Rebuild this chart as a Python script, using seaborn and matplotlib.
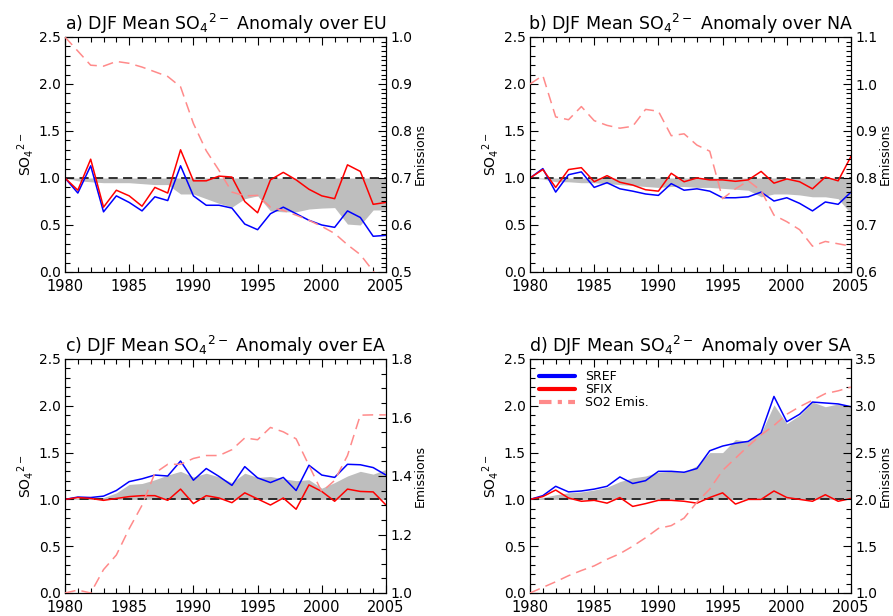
import matplotlib
matplotlib.use("Agg")
import matplotlib.pyplot as plt
import seaborn as sns
import pandas as pd
from matplotlib.ticker import MultipleLocator, FormatStrFormatter
from matplotlib.lines import Line2D

years = list(range(1980, 2006))

# Europe
sref_eu = [1.00, 0.84, 1.13, 0.64, 0.81, 0.74, 0.65, 0.80, 0.76, 1.13, 0.81, 0.71, 0.71,
           0.68, 0.51, 0.45, 0.62, 0.69, 0.62, 0.55, 0.50, 0.475, 0.65, 0.58, 0.38, 0.39]
sfix_eu = [1.00, 0.87, 1.20, 0.69, 0.87, 0.81, 0.70, 0.90, 0.84, 1.30, 0.97, 0.97, 1.02,
           1.01, 0.75, 0.63, 0.98, 1.06, 0.98, 0.88, 0.81, 0.78, 1.14, 1.07, 0.72, 0.74]
band_eu = [1.00, 0.97, 0.96, 0.95, 0.95, 0.95, 0.94, 0.93, 0.93, 0.83, 0.83, 0.78, 0.73,
           0.69, 0.78, 0.81, 0.65, 0.64, 0.64, 0.67, 0.68, 0.685, 0.51, 0.50, 0.66, 0.66]
emis_eu = [1.00, 0.97, 0.94, 0.938, 0.948, 0.944, 0.936, 0.926, 0.916, 0.894, 0.816, 0.758,
           0.716, 0.67, 0.662, 0.663, 0.638, 0.631, 0.621, 0.61, 0.597, 0.582, 0.558, 0.537,
           0.502, 0.47]

# North America
sref_na = [1.00, 1.10, 0.85, 1.035, 1.065, 0.90, 0.95, 0.885, 0.86, 0.83, 0.815, 0.94, 0.87,
           0.885, 0.86, 0.79, 0.79, 0.80, 0.85, 0.755, 0.79, 0.73, 0.65, 0.745, 0.72, 0.85]
sfix_na = [1.00, 1.09, 0.90, 1.09, 1.11, 0.96, 1.025, 0.955, 0.925, 0.875, 0.86, 1.05, 0.96,
           1.00, 0.98, 0.98, 0.965, 0.98, 1.07, 0.945, 0.99, 0.96, 0.885, 1.01, 0.97, 1.23]
band_na = [1.00, 0.99, 0.96, 0.96, 0.95, 0.95, 0.94, 0.93, 0.92, 0.91, 0.90, 0.91, 0.91,
           0.90, 0.90, 0.89, 0.88, 0.87, 0.80, 0.83, 0.83, 0.82, 0.80, 0.80, 0.78, 0.62]
emis_na = [1.00, 1.018, 0.93, 0.924, 0.952, 0.922, 0.912, 0.906, 0.91, 0.946, 0.942, 0.89,
           0.894, 0.87, 0.857, 0.756, 0.777, 0.794, 0.773, 0.721, 0.707, 0.69, 0.655, 0.665,
           0.66, 0.655]

# East Asia
sref_ea = [1.00, 1.025, 1.02, 1.035, 1.095, 1.19, 1.22, 1.26, 1.25, 1.41, 1.205, 1.33, 1.245,
           1.15, 1.35, 1.23, 1.18, 1.235, 1.095, 1.365, 1.26, 1.235, 1.375, 1.37, 1.34, 1.26]
sfix_ea = [1.00, 1.02, 1.01, 0.99, 1.01, 1.03, 1.04, 1.04, 0.99, 1.11, 0.955, 1.04, 1.015,
           0.965, 1.07, 1.005, 0.94, 1.015, 0.895, 1.155, 1.085, 0.98, 1.11, 1.085, 1.08, 0.94]
band_ea = [1.00, 1.01, 1.01, 1.02, 1.07, 1.16, 1.17, 1.21, 1.26, 1.30, 1.24, 1.28, 1.24,
           1.18, 1.28, 1.235, 1.245, 1.22, 1.20, 1.21, 1.12, 1.18, 1.25, 1.30, 1.27, 1.32]
emis_ea = [1.00, 1.01, 1.00, 1.08, 1.13, 1.22, 1.30, 1.41, 1.44, 1.44, 1.46, 1.47, 1.47,
           1.49, 1.53, 1.524, 1.566, 1.551, 1.527, 1.436, 1.346, 1.385, 1.47, 1.608, 1.609,
           1.609]

# South Asia
sref_sa = [1.00, 1.04, 1.14, 1.08, 1.09, 1.11, 1.14, 1.24, 1.17, 1.20, 1.30, 1.30, 1.29,
           1.33, 1.52, 1.57, 1.60, 1.62, 1.71, 2.10, 1.83, 1.91, 2.04, 2.03, 2.02, 1.99]
sfix_sa = [1.00, 1.03, 1.10, 1.015, 0.98, 0.99, 0.96, 1.02, 0.925, 0.955, 0.99, 0.99, 0.98,
           0.96, 1.02, 1.07, 0.95, 1.00, 1.00, 1.09, 1.02, 1.00, 0.98, 1.05, 0.98, 1.01]
band_sa = [1.00, 1.02, 1.05, 1.07, 1.08, 1.10, 1.13, 1.19, 1.23, 1.25, 1.29, 1.30, 1.29,
           1.36, 1.50, 1.50, 1.64, 1.62, 1.71, 2.01, 1.81, 1.90, 2.04, 1.99, 2.02, 2.00]
emis_sa = [1.00, 1.06, 1.12, 1.185, 1.24, 1.29, 1.36, 1.42, 1.50, 1.59, 1.69, 1.72, 1.80,
           1.97, 2.11, 2.31, 2.44, 2.57, 2.69, 2.79, 2.91, 2.99, 3.06, 3.13, 3.16, 3.20]

panel_letters = ["a", "b", "c", "d"]
regions = ["EU", "NA", "EA", "SA"]
sref_all = [sref_eu, sref_na, sref_ea, sref_sa]
sfix_all = [sfix_eu, sfix_na, sfix_ea, sfix_sa]
band_all = [band_eu, band_na, band_ea, band_sa]
emis_all = [emis_eu, emis_na, emis_ea, emis_sa]
emis_limits = [(0.5, 1.0), (0.6, 1.1), (1.0, 1.8), (1.0, 3.5)]
emis_major = [0.1, 0.1, 0.2, 0.5]
emis_minor = [0.01, 0.01, 0.05, 0.1]

sns.set_theme(style="ticks")
plt.rcParams["font.family"] = ["DejaVu Sans"]
plt.rcParams["axes.edgecolor"] = "black"
plt.rcParams["axes.linewidth"] = 0.8
plt.rcParams["text.color"] = "black"
plt.rcParams["axes.labelcolor"] = "black"
plt.rcParams["axes.titlecolor"] = "black"
plt.rcParams["mathtext.fontset"] = "dejavusans"

BLUE = "#0000FF"
RED = "#FF0000"
PINK = "#FF8A8A"
GRAY = "#BEBEBE"
SO4 = r"SO$_4{}^{2-}$"

fig = plt.figure(figsize=(8.93, 6.16), dpi=100)
W, H = 893.0, 616.0
boxes = [(65, 37, 386, 272), (530, 37, 851, 272),
         (65, 359, 386, 593), (530, 359, 851, 593)]


def style_ticks(axis, side):
    axis.tick_params(which="both", direction="in", labelsize=10, colors="black",
                     width=0.8, pad=3)
    axis.tick_params(which="major", length=6)
    axis.tick_params(which="minor", length=3.5)
    if side == "left":
        axis.tick_params(which="both", top=True, right=False)
    else:
        axis.tick_params(which="both", right=True, left=False)


for i, (x0, y0, x1, y1) in enumerate(boxes):
    ax = fig.add_axes([x0 / W, 1 - y1 / H, (x1 - x0) / W, (y1 - y0) / H])
    df = pd.DataFrame({"year": years, "SREF": sref_all[i], "SFIX": sfix_all[i],
                       "band": band_all[i], "emis": emis_all[i]})

    ax.fill_between(df["year"], 1.0, df["band"], color=GRAY, linewidth=0, zorder=1)
    ax.axhline(1.0, color="black", linewidth=1.1, linestyle=(0, (6, 3.5)), zorder=2)
    sns.lineplot(data=df, x="year", y="SREF", ax=ax, color=BLUE, linewidth=1.1, zorder=3)
    sns.lineplot(data=df, x="year", y="SFIX", ax=ax, color=RED, linewidth=1.1, zorder=3)

    ax.set_xlim(1980, 2005)
    ax.set_ylim(0.0, 2.5)
    ax.xaxis.set_major_locator(MultipleLocator(5))
    ax.xaxis.set_minor_locator(MultipleLocator(1))
    ax.yaxis.set_major_locator(MultipleLocator(0.5))
    ax.yaxis.set_minor_locator(MultipleLocator(0.1))
    ax.yaxis.set_major_formatter(FormatStrFormatter("%.1f"))
    style_ticks(ax, "left")
    ax.tick_params(axis="x", pad=5, labelsize=10.5)
    ax.set_xlabel("")
    ax.set_ylabel(SO4, fontsize=10, labelpad=2)
    ax.set_title(f"{panel_letters[i]}) DJF Mean {SO4} Anomaly over {regions[i]}",
                 fontsize=12.5, pad=5, color="black")

    ax2 = ax.twinx()
    sns.lineplot(data=df, x="year", y="emis", ax=ax2, color=PINK, linewidth=1.1,
                 linestyle=(0, (7, 4)), zorder=4)
    lo, hi = emis_limits[i]
    ax2.set_ylim(lo, hi)
    ax2.set_xlim(1980, 2005)
    ax2.yaxis.set_major_locator(MultipleLocator(emis_major[i]))
    ax2.yaxis.set_minor_locator(MultipleLocator(emis_minor[i]))
    ax2.yaxis.set_major_formatter(FormatStrFormatter("%.1f"))
    style_ticks(ax2, "right")
    ax2.set_xlabel("")
    ax2.set_ylabel("Emissions", fontsize=9)
    ax2.yaxis.set_label_coords(1.088, 0.5)

    if i == 3:
        handles = [Line2D([], [], color=BLUE, linewidth=3),
                   Line2D([], [], color=RED, linewidth=3),
                   Line2D([], [], color=PINK, linewidth=3, linestyle=(0, (3, 1.5, 1, 1.5)))]
        ax2.legend(handles, ["SREF", "SFIX", "SO2 Emis."], loc="upper left",
                   bbox_to_anchor=(0.0, 0.99), frameon=False, fontsize=9,
                   handlelength=2.9, handletextpad=0.8, labelspacing=0.0,
                   borderaxespad=0.3)

fig.savefig("out.png", dpi=100)
